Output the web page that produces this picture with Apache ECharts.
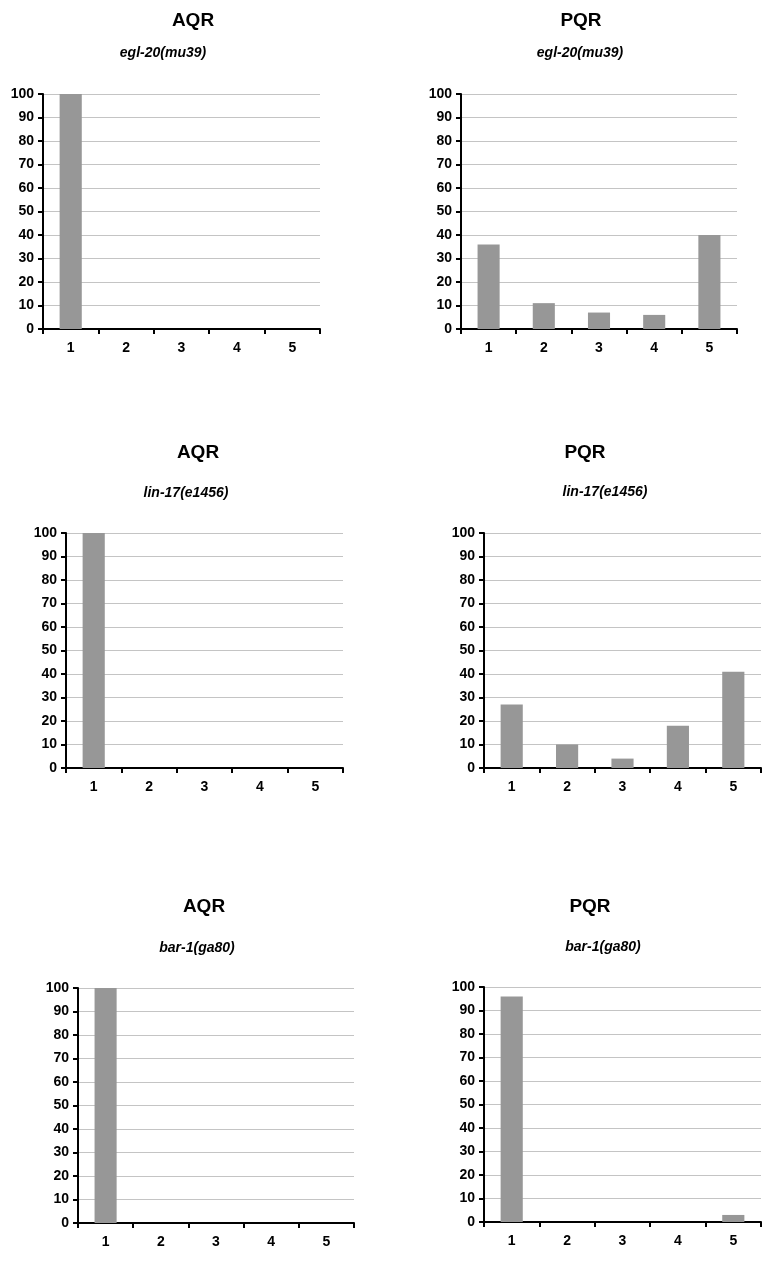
<!DOCTYPE html>
<html>
<head>
<meta charset="utf-8">
<script src="https://cdn.jsdelivr.net/npm/echarts@6/dist/echarts.min.js"></script>
<style>
html,body{margin:0;padding:0;background:#fff;}
#chart{width:771px;height:1264px;}
</style>
</head>
<body>
<div id="chart"></div>
<script>
const categories = ['1', '2', '3', '4', '5'];
const aqrEgl20 = [100, 0, 0, 0, 0];
const pqrEgl20 = [36, 11, 7, 6, 40];
const aqrLin17 = [100, 0, 0, 0, 0];
const pqrLin17 = [27, 10, 4, 18, 41];
const aqrBar1 = [100, 0, 0, 0, 0];
const pqrBar1 = [96, 0, 0, 0, 3];
const cellNames = ['AQR', 'PQR', 'AQR', 'PQR', 'AQR', 'PQR'];
const alleles = ['egl-20(mu39)', 'egl-20(mu39)', 'lin-17(e1456)', 'lin-17(e1456)', 'bar-1(ga80)', 'bar-1(ga80)'];
const yMin = 0, yMax = 100, yStep = 10;

const seriesData = [aqrEgl20, pqrEgl20, aqrLin17, pqrLin17, aqrBar1, pqrBar1];

// layout (pixels)
const grids = [
  {left: 43, top: 94, width: 277, height: 235},
  {left: 461, top: 94, width: 276, height: 235},
  {left: 66, top: 533, width: 277, height: 235},
  {left: 484, top: 533, width: 277, height: 235},
  {left: 78, top: 988, width: 276, height: 235},
  {left: 484, top: 987, width: 277, height: 235}
];
const titlePos = [[193, 21], [581, 21], [198, 453], [585, 453], [204, 907], [590, 907]];
const subPos = [[163, 53], [580, 53], [186, 493], [605, 492], [197, 948], [603, 947]];

const font = '"Liberation Sans", Arial, sans-serif';
const chart = echarts.init(document.getElementById('chart'));

const xAxes = [], yAxes = [], series = [], graphics = [];
grids.forEach((g, i) => {
  xAxes.push({
    type: 'category', gridIndex: i, data: categories, boundaryGap: true,
    axisLine: {show: true, lineStyle: {color: '#000', width: 2}},
    axisTick: {show: true, alignWithLabel: false, length: 5, lineStyle: {color: '#000', width: 2}},
    axisLabel: {color: '#000', fontFamily: font, fontWeight: 'bold', fontSize: 14, margin: 12},
    splitLine: {show: false}
  });
  yAxes.push({
    type: 'value', gridIndex: i, min: yMin, max: yMax, interval: yStep,
    axisLine: {show: true, lineStyle: {color: '#000', width: 2}},
    axisTick: {show: true, length: 5, lineStyle: {color: '#000', width: 2}},
    axisLabel: {color: '#000', fontFamily: font, fontWeight: 'bold', fontSize: 14, margin: 9},
    splitLine: {show: true, lineStyle: {color: '#c4c4c4', width: 1}}
  });
  series.push({
    type: 'bar', xAxisIndex: i, yAxisIndex: i, data: seriesData[i],
    barWidth: '40%', itemStyle: {color: '#979797'}, silent: true
  });
  graphics.push({
    type: 'text', x: titlePos[i][0], y: titlePos[i][1],
    style: {text: cellNames[i], fill: '#000', font: 'bold 19px ' + font, textAlign: 'center', textVerticalAlign: 'middle'}
  });
  graphics.push({
    type: 'text', x: subPos[i][0], y: subPos[i][1],
    style: {text: alleles[i], fill: '#000', font: 'italic bold 14px ' + font, textAlign: 'center', textVerticalAlign: 'middle'}
  });
});

chart.setOption({
  animation: false,
  backgroundColor: '#fff',
  grid: grids.map(g => Object.assign({containLabel: false}, g)),
  xAxis: xAxes,
  yAxis: yAxes,
  series: series,
  graphic: graphics
});
</script>
</body>
</html>
